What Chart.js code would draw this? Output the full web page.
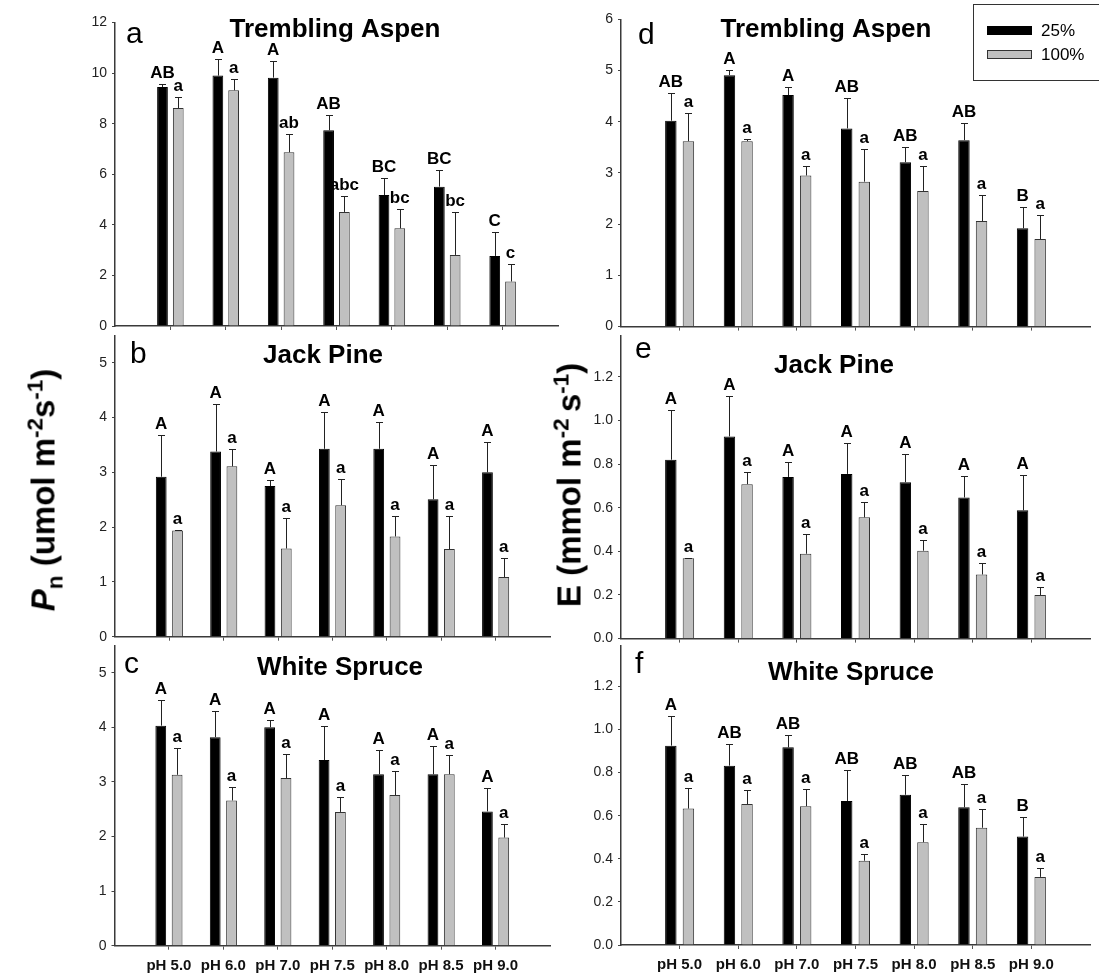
<!DOCTYPE html>
<html>
<head>
<meta charset="utf-8">
<script src="https://cdn.jsdelivr.net/npm/chart.js@4.4.1/dist/chart.umd.min.js"></script>
<style>
body{margin:0;background:#fff;width:1099px;height:977px;position:relative;overflow:hidden;font-family:"Liberation Sans",Arial,sans-serif}
canvas{position:absolute}
.ytitle{position:absolute;font-weight:bold;font-size:33px;white-space:nowrap;line-height:1;transform:translate(-50%,-50%) rotate(-90deg)}
.ytitle sup,.ytitle sub{font-size:68%;line-height:0}
</style>
</head>
<body>
<canvas id="pa" width="565" height="340" style="left:0;top:0"></canvas>
<canvas id="pb" width="565" height="330" style="left:0;top:322px"></canvas>
<canvas id="pc" width="565" height="345" style="left:0;top:632px"></canvas>
<canvas id="pd" width="534" height="340" style="left:565px;top:0"></canvas>
<canvas id="pe" width="534" height="330" style="left:565px;top:322px"></canvas>
<canvas id="pf" width="534" height="345" style="left:565px;top:632px"></canvas>
<div class="ytitle" style="left:43px;top:490px"><i>P</i><sub>n</sub> (umol m<sup>-2</sup>s<sup>-1</sup>)</div>
<div class="ytitle" style="left:569px;top:485px">E (mmol m<sup>-2 </sup>s<sup>-1</sup>)</div>
<script>
const phLabels = ['pH 5.0','pH 6.0','pH 7.0','pH 7.5','pH 8.0','pH 8.5','pH 9.0'];
const shade = ['25%','100%'];

// Pn, trembling aspen
const pnAspen25 = [9.45, 9.9, 9.82, 7.74, 5.18, 5.51, 2.77];
const pnAspen25Se = [0.11, 0.65, 0.64, 0.59, 0.66, 0.66, 0.96];
const pnAspen100 = [8.62, 9.32, 6.87, 4.51, 3.86, 2.81, 1.76];
const pnAspen100Se = [0.43, 0.44, 0.71, 0.62, 0.76, 1.69, 0.69];
const pnAspen25Let = ['AB','A','A','AB','BC','BC','C'];
const pnAspen100Let = ['a','a','ab','abc','bc','bc','c'];

// Pn, jack pine
const pnPine25 = [2.92, 3.38, 2.75, 3.43, 3.43, 2.51, 3.0];
const pnPine25Se = [0.77, 0.87, 0.11, 0.68, 0.49, 0.63, 0.56];
const pnPine100 = [1.94, 3.11, 1.61, 2.40, 1.83, 1.60, 1.09];
const pnPine100Se = [0.01, 0.32, 0.56, 0.47, 0.38, 0.60, 0.34];
const pnPine25Let = ['A','A','A','A','A','A','A'];
const pnPine100Let = ['a','a','a','a','a','a','a'];

// Pn, white spruce
const pnSpruce25 = [4.03, 3.82, 4.0, 3.40, 3.14, 3.14, 2.46];
const pnSpruce25Se = [0.47, 0.47, 0.13, 0.63, 0.45, 0.52, 0.42];
const pnSpruce100 = [3.13, 2.66, 3.07, 2.45, 2.76, 3.14, 1.98];
const pnSpruce100Se = [0.50, 0.25, 0.45, 0.27, 0.44, 0.36, 0.24];
const pnSpruce25Let = ['A','A','A','A','A','A','A'];
const pnSpruce100Let = ['a','a','a','a','a','a','a'];

// E, trembling aspen
const eAspen25 = [4.02, 4.91, 4.52, 3.87, 3.21, 3.64, 1.92];
const eAspen25Se = [0.54, 0.10, 0.15, 0.59, 0.29, 0.33, 0.41];
const eAspen100 = [3.62, 3.62, 2.95, 2.83, 2.65, 2.06, 1.71];
const eAspen100Se = [0.56, 0.05, 0.19, 0.63, 0.49, 0.50, 0.46];
const eAspen25Let = ['AB','A','A','AB','AB','AB','B'];
const eAspen100Let = ['a','a','a','a','a','a','a'];

// E, jack pine
const ePine25 = [0.82, 0.927, 0.741, 0.755, 0.717, 0.647, 0.588];
const ePine25Se = [0.228, 0.183, 0.069, 0.142, 0.131, 0.10, 0.16];
const ePine100 = [0.368, 0.708, 0.389, 0.556, 0.403, 0.294, 0.20];
const ePine100Se = [0.003, 0.054, 0.091, 0.071, 0.047, 0.054, 0.035];
const ePine25Let = ['A','A','A','A','A','A','A'];
const ePine100Let = ['a','a','a','a','a','a','a'];

// E, white spruce
const eSpruce25 = [0.925, 0.832, 0.917, 0.668, 0.697, 0.639, 0.503];
const eSpruce25Se = [0.137, 0.102, 0.058, 0.142, 0.093, 0.11, 0.093];
const eSpruce100 = [0.633, 0.654, 0.644, 0.391, 0.477, 0.544, 0.316];
const eSpruce100Se = [0.096, 0.064, 0.079, 0.029, 0.086, 0.086, 0.04];
const eSpruce25Let = ['A','AB','AB','AB','AB','AB','B'];
const eSpruce100Let = ['a','a','a','a','a','a','a'];

const FONT = '"Liberation Sans", Arial, sans-serif';
Chart.defaults.font.family = FONT;
Chart.defaults.font.size = 14;
Chart.defaults.color = '#222';

// custom drawing: error bars, letters, panel tag, species title, legend
const decor = {
  id: 'decor',
  afterDatasetsDraw(chart, args, o) {
    const ctx = chart.ctx, ys = chart.scales.y;
    ctx.save();
    chart.data.datasets.forEach((ds, di) => {
      chart.getDatasetMeta(di).data.forEach((bar, i) => {
        const top = ys.getPixelForValue(ds.data[i].y + ds.se[i]);
        const bx = Math.round(bar.x) + 0.5, ty = Math.round(top) + 0.5;
        ctx.strokeStyle = '#222';
        ctx.lineWidth = 1;
        ctx.beginPath();
        ctx.moveTo(bx, bar.y); ctx.lineTo(bx, ty);
        ctx.moveTo(bx - 3.5, ty); ctx.lineTo(bx + 3.5, ty);
        ctx.stroke();
        ctx.font = 'bold 17px ' + FONT;
        ctx.fillStyle = '#000';
        ctx.textAlign = 'center';
        ctx.textBaseline = 'alphabetic';
        ctx.fillText(ds.letters[i], bar.x, top - 6);
      });
    });
    ctx.fillStyle = '#000';
    ctx.textBaseline = 'alphabetic';
    ctx.textAlign = 'left';
    ctx.font = '30px ' + FONT;
    ctx.fillText(o.tag, o.tagPos[0], o.tagPos[1]);
    ctx.textAlign = 'center';
    ctx.font = 'bold 26px ' + FONT;
    ctx.fillText(o.title, o.titlePos[0], o.titlePos[1]);
    if (o.legend) {
      const [lx, ly] = o.legend;
      ctx.strokeStyle = '#333';
      ctx.lineWidth = 1;
      ctx.strokeRect(lx + 0.5, ly + 0.5, 140, 76);
      chart.data.datasets.forEach((ds, di) => {
        const sy = ly + 22 + di * 24;
        ctx.fillStyle = ds.backgroundColor;
        ctx.fillRect(lx + 14, sy, 45, 9);
        ctx.strokeStyle = ds.borderColor;
        ctx.strokeRect(lx + 14.5, sy + 0.5, 44, 8);
        ctx.fillStyle = '#000';
        ctx.textAlign = 'left';
        ctx.textBaseline = 'middle';
        ctx.font = '17px ' + FONT;
        ctx.fillText(ds.label, lx + 68, sy + 5);
      });
    }
    ctx.restore();
  }
};

function panel(id, p) {
  const pad = {left: 0, top: p.y0 - p.top, right: p.left + p.w - p.x1, bottom: 0};
  const yWidth = p.x0 - p.left, xHeight = p.top + p.h - p.y1;
  const mk = (vals, se, lets, k) => ({
    label: shade[k],
    data: vals.map((v, i) => ({x: i, y: v})),
    se: se, letters: lets,
    backgroundColor: k ? '#c0c0c0' : '#000',
    borderColor: k ? '#333' : '#000',
    borderWidth: 1,
    categoryPercentage: p.cat, barPercentage: p.bar
  });
  new Chart(document.getElementById(id), {
    type: 'bar',
    data: {datasets: [mk(p.s[0], p.s[1], p.s[2], 0), mk(p.s[3], p.s[4], p.s[5], 1)]},
    options: {
      responsive: false, animation: false,
      layout: {padding: pad},
      plugins: {legend: {display: false}, tooltip: {enabled: false},
        decor: {tag: p.tag, tagPos: p.tagPos, title: p.title, titlePos: p.titlePos, legend: p.legend}},
      scales: {
        x: {
          type: 'linear', min: -1, max: 7, offset: false,
          afterBuildTicks: s => { s.ticks = phLabels.map((_, i) => ({value: i})); },
          afterFit: s => { s.height = xHeight; },
          grid: {drawOnChartArea: false, drawTicks: true, tickLength: 4, color: '#555', offset: false},
          border: {display: true, color: '#3a3a3a', width: 1.5},
          ticks: {display: p.showX, padding: 7, color: '#111', font: {size: 15, weight: 'bold'},
            autoSkip: false, maxRotation: 0, callback: v => phLabels[v]}
        },
        y: {
          min: 0, max: p.yMax,
          afterFit: s => { s.width = yWidth; },
          grid: {drawOnChartArea: false, drawTicks: true, tickLength: 3, color: '#444'},
          border: {display: true, color: '#3a3a3a', width: 1.5},
          ticks: {stepSize: p.step, includeBounds: false, padding: 5,
            callback: v => v.toFixed(p.dec)}
        }
      }
    },
    plugins: [decor]
  });
}

panel('pa', {left: 0, top: 0, w: 565, h: 340, x0: 115, x1: 558, y0: 22.5, y1: 326, yMax: 12, step: 2, dec: 0,
  cat: 0.57, bar: 0.68, showX: false, tag: 'a', tagPos: [126, 43], title: 'Trembling Aspen', titlePos: [335, 37],
  s: [pnAspen25, pnAspen25Se, pnAspen25Let, pnAspen100, pnAspen100Se, pnAspen100Let]});
panel('pb', {left: 0, top: 322, w: 565, h: 330, x0: 115, x1: 550, y0: 329.8, y1: 636.7, yMax: 5.5, step: 1, dec: 0,
  cat: 0.6, bar: 0.66, showX: false, tag: 'b', tagPos: [130, 41], title: 'Jack Pine', titlePos: [323, 41],
  s: [pnPine25, pnPine25Se, pnPine25Let, pnPine100, pnPine100Se, pnPine100Let]});
panel('pc', {left: 0, top: 632, w: 565, h: 345, x0: 114.5, x1: 550, y0: 640.6, y1: 945.7, yMax: 5.5, step: 1, dec: 0,
  cat: 0.6, bar: 0.66, showX: true, tag: 'c', tagPos: [124, 41], title: 'White Spruce', titlePos: [340, 43],
  s: [pnSpruce25, pnSpruce25Se, pnSpruce25Let, pnSpruce100, pnSpruce100Se, pnSpruce100Let]});
panel('pd', {left: 565, top: 0, w: 534, h: 340, x0: 621, x1: 1090, y0: 19.3, y1: 326.7, yMax: 6, step: 1, dec: 0,
  cat: 0.6, bar: 0.65, showX: false, tag: 'd', tagPos: [73, 44], title: 'Trembling Aspen', titlePos: [261, 37],
  legend: [408, 4],
  s: [eAspen25, eAspen25Se, eAspen25Let, eAspen100, eAspen100Se, eAspen100Let]});
panel('pe', {left: 565, top: 322, w: 534, h: 330, x0: 621, x1: 1090, y0: 334.2, y1: 640.2, yMax: 1.39, step: 0.2, dec: 1,
  cat: 0.6, bar: 0.65, showX: false, tag: 'e', tagPos: [70, 36], title: 'Jack Pine', titlePos: [269, 51],
  s: [ePine25, ePine25Se, ePine25Let, ePine100, ePine100Se, ePine100Let]});
panel('pf', {left: 565, top: 632, w: 534, h: 345, x0: 621, x1: 1090, y0: 642, y1: 945, yMax: 1.39, step: 0.2, dec: 1,
  cat: 0.6, bar: 0.65, showX: true, tag: 'f', tagPos: [70, 41], title: 'White Spruce', titlePos: [286, 48],
  s: [eSpruce25, eSpruce25Se, eSpruce25Let, eSpruce100, eSpruce100Se, eSpruce100Let]});
</script>
</body>
</html>
